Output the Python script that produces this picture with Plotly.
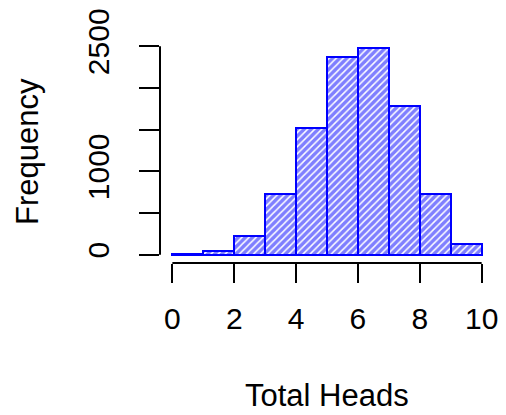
import plotly.graph_objects as go

# Histogram of total heads: bins of width 1 from 0 to 10
bin_left = [0, 1, 2, 3, 4, 5, 6, 7, 8, 9]
counts = [8, 47, 223, 730, 1523, 2377, 2476, 1779, 730, 132]

x_ticks = [0, 2, 4, 6, 8, 10]
y_ticks = [0, 500, 1000, 1500, 2000, 2500]
y_tick_text = ["0", "", "1000", "", "", "2500"]

FONT = "Liberation Sans, Arial, sans-serif"
BLUE = "#0000FF"
TICK_SIZE = 30
TITLE_SIZE = 31

centers = [b + 0.5 for b in bin_left]

fig = go.Figure()
fig.add_trace(go.Bar(
    x=centers,
    y=counts,
    width=1.0,
    marker=dict(
        color="white",
        line=dict(color=BLUE, width=2),
        pattern=dict(shape="/", fgcolor=BLUE, bgcolor="white", size=5, solidity=0.7),
    ),
    showlegend=False,
))

ymax = max(counts)
pad = 0.04 * ymax

fig.update_layout(
    width=506,
    height=415,
    autosize=False,
    margin=dict(l=160, r=8, t=38, b=152),
    paper_bgcolor="white",
    plot_bgcolor="white",
    font=dict(family=FONT, size=TICK_SIZE, color="black"),
    bargap=0,
    xaxis=dict(
        range=[-0.4, 10.4],
        showline=False,
        showgrid=False,
        zeroline=False,
        ticks="outside",
        ticklen=19,
        tickwidth=2,
        tickcolor="black",
        tickvals=x_ticks,
        ticktext=[str(v) for v in x_ticks],
        ticklabelstandoff=10,
    ),
    yaxis=dict(
        range=[-pad, ymax + pad],
        showline=False,
        showgrid=False,
        zeroline=False,
        ticks="outside",
        ticklen=20,
        tickwidth=2,
        tickcolor="black",
        tickvals=y_ticks,
        ticktext=y_tick_text,
        tickangle=-90,
        ticklabelstandoff=18,
    ),
    # axis lines span only the first to the last tick
    shapes=[
        dict(type="line", xref="x", yref="paper", x0=x_ticks[0], x1=x_ticks[-1], y0=0, y1=0,
             line=dict(color="black", width=2)),
        dict(type="line", xref="paper", yref="y", x0=0, x1=0, y0=y_ticks[0], y1=y_ticks[-1],
             line=dict(color="black", width=2)),
    ],
    annotations=[
        dict(text="Total Heads", xref="paper", yref="paper", x=0.5, y=-0.595,
             showarrow=False, xanchor="center", yanchor="middle",
             font=dict(family=FONT, size=TITLE_SIZE, color="black")),
        dict(text="Frequency", xref="paper", yref="paper", x=-0.397, y=0.5,
             showarrow=False, xanchor="center", yanchor="middle", textangle=-90,
             font=dict(family=FONT, size=TITLE_SIZE, color="black")),
    ],
)

fig.write_html("out.html")
